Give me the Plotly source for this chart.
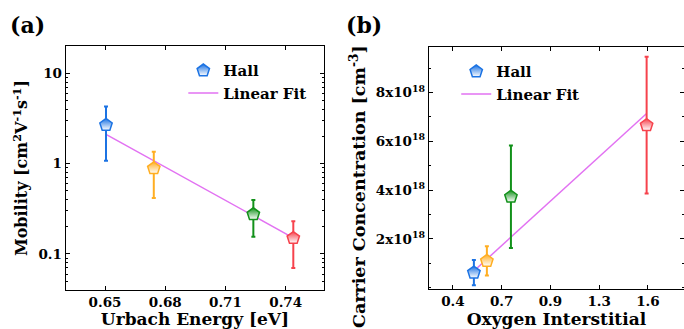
import plotly.graph_objects as go

# ---------------- data ----------------
urbach_energy = [0.6505, 0.6743, 0.7239, 0.7438]
mobility = [2.68, 0.887, 0.275, 0.150]
mobility_err = [1.6, 0.47, 0.12, 0.08]
fit_a_x = [0.6505, 0.7433]
fit_a_y = [2.11, 0.153]

oxygen_interstitial = [0.529, 0.609, 0.757, 1.592]
carrier_conc = [0.62e18, 1.10e18, 3.73e18, 6.66e18]
carrier_err = [0.52e18, 0.60e18, 2.1e18, 2.8e18]
fit_b_x = [0.529, 1.592]
fit_b_y = [0.69e18, 7.14e18]

point_colors = ["#1C73E3", "#FFAE22", "#12911A", "#F6424C"]
fit_color = "#E272F2"

a_xticks = [0.65, 0.68, 0.71, 0.74]
a_xticktext = ["0.65", "0.68", "0.71", "0.74"]
a_yticks = [0.1, 1, 10]
a_yticktext = ["0.1", "1", "10"]
b_xticks = [0.4, 0.7, 1.0, 1.3, 1.6]
b_xticktext = ["0.4", "0.7", "0.9", "1.3", "1.6"]
b_yticks = [2e18, 4e18, 6e18, 8e18]
b_yticktext = ["2x10<sup>18</sup>", "4x10<sup>18</sup>", "6x10<sup>18</sup>", "8x10<sup>18</sup>"]

FONT = "DejaVu Serif"
fig = go.Figure()

def add_panel(xs, ys, errs, fx, fy, xa, ya, legend):
    fig.add_trace(go.Scatter(
        x=fx, y=fy, mode="lines", name="<b>Linear Fit</b>",
        line=dict(color=fit_color, width=1.5),
        xaxis=xa, yaxis=ya, legend=legend, legendrank=2))
    for i, (x, y, e) in enumerate(zip(xs, ys, errs)):
        c = point_colors[i]
        fig.add_trace(go.Scatter(
            x=[x], y=[y], mode="markers", name="<b>Hall</b>",
            showlegend=(i == 0), legendgroup=legend + "hall",
            legend=legend, legendrank=1,
            error_y=dict(type="data", array=[e], color=c, thickness=2, width=2),
            marker=dict(symbol="pentagon", size=13, color=c,
                        line=dict(color=c, width=1.5),
                        gradient=dict(type="vertical", color="white")),
            xaxis=xa, yaxis=ya))

add_panel(urbach_energy, mobility, mobility_err, fit_a_x, fit_a_y, "x", "y", "legend")
add_panel(oxygen_interstitial, carrier_conc, carrier_err, fit_b_x, fit_b_y, "x2", "y2", "legend2")

tickfont = dict(family=FONT, size=13.5, color="black", weight="bold")
titlefont = dict(family=FONT, size=17, color="black", weight="bold")
ytitlefont = dict(family=FONT, size=16, color="black", weight="bold")
common = dict(showline=True, linecolor="black", linewidth=1, mirror="ticks",
              ticks="inside", ticklen=4, tickcolor="black", showgrid=False,
              zeroline=False, tickfont=tickfont)

fig.update_layout(
    width=684, height=329,
    margin=dict(l=0, r=0, t=0, b=0),
    paper_bgcolor="white", plot_bgcolor="white",
    font=dict(family=FONT, color="black"),
    xaxis=dict(domain=[0.096, 0.474], range=[0.6304, 0.7592],
               tickvals=a_xticks, ticktext=a_xticktext,
               title=dict(text="<b>Urbach Energy [eV]</b>", font=titlefont, standoff=6),
               anchor="y", **common),
    yaxis=dict(domain=[0.1185, 0.860], type="log", range=[-1.399, 1.302],
               tickvals=a_yticks, ticktext=a_yticktext,
               minor=dict(ticks="inside", ticklen=2, tickcolor="black", dtick="D1"),
               title=dict(text="<b>Mobility [cm<sup>2</sup>V<sup>-1</sup>s<sup>-1</sup>]</b>",
                          font=ytitlefont, standoff=6),
               anchor="x", **common),
    xaxis2=dict(domain=[0.627, 1.0], range=[0.252, 1.822],
                tickvals=b_xticks, ticktext=b_xticktext,
                title=dict(text="<b>Oxygen Interstitial</b>", font=titlefont, standoff=6),
                anchor="y2", **common),
    yaxis2=dict(domain=[0.1215, 0.857], range=[-0.05e18, 9.86e18],
                tickvals=b_yticks, ticktext=b_yticktext,
                minor=dict(ticks="inside", ticklen=2, tickcolor="black", dtick=1e18),
                anchor="x2", **common),
    legend=dict(x=0.268, y=0.835, xanchor="left", yanchor="top",
                bgcolor="rgba(0,0,0,0)", font=dict(family=FONT, size=15, color="black"),
                itemwidth=30, tracegroupgap=0),
    legend2=dict(x=0.667, y=0.832, xanchor="left", yanchor="top",
                 bgcolor="rgba(0,0,0,0)", font=dict(family=FONT, size=15, color="black"),
                 itemwidth=30, tracegroupgap=0),
    annotations=[
        dict(text="<b>(a)</b>", x=0.012, y=0.925, xref="paper", yref="paper",
             xanchor="left", yanchor="middle", showarrow=False,
             font=dict(family=FONT, size=22, color="black")),
        dict(text="<b>(b)</b>", x=0.503, y=0.925, xref="paper", yref="paper",
             xanchor="left", yanchor="middle", showarrow=False,
             font=dict(family=FONT, size=22, color="black")),
        dict(text="<b>Carrier Concentration [cm<sup>-3</sup>]</b>",
             x=357 / 684, y=1 - 186 / 329, xref="paper", yref="paper",
             xanchor="center", yanchor="middle", textangle=-90, showarrow=False,
             font=dict(family=FONT, size=17.5, color="black")),
    ],
)

fig.write_html("out.html", config={"displayModeBar": False},
               post_script="document.body.style.margin='0';document.body.style.overflow='hidden';")
